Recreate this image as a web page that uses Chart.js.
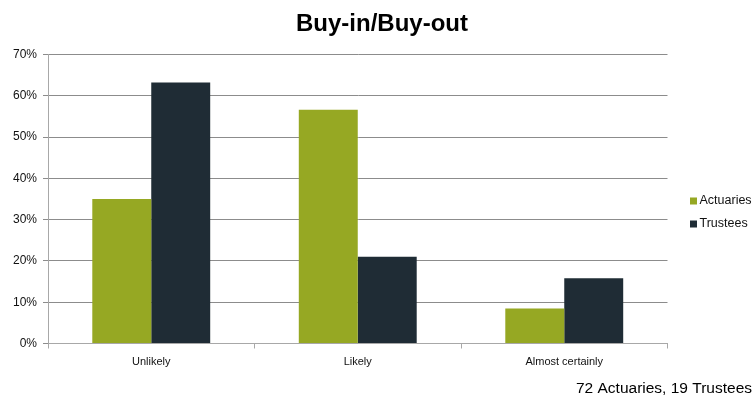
<!DOCTYPE html>
<html>
<head>
<meta charset="utf-8">
<script src="https://cdn.jsdelivr.net/npm/chart.js@4/dist/chart.umd.min.js"></script>
<style>
  html, body { margin: 0; padding: 0; background: #ffffff; }
  #wrap { width: 756px; height: 400px; }
</style>
</head>
<body>
<div id="wrap"><canvas id="c" width="756" height="400"></canvas></div>
<script>
// Survey answers, share of respondents (%)
const categories = ['Unlikely', 'Likely', 'Almost certainly'];
const seriesNames = ['Actuaries', 'Trustees'];
const actuaries = [35.0, 56.6, 8.5];
const trustees = [63.2, 21.0, 15.8];
const yTickValues = [0, 10, 20, 30, 40, 50, 60, 70];
const chartTitle = 'Buy-in/Buy-out';
const footnote = '72 Actuaries, 19 Trustees';

const GREEN = '#96a823';
const DARK = '#1f2c35';
const GRID = '#8c8c8c';
const AXIS = '#a8a8a8';
const FONT = "'Liberation Sans', Arial, sans-serif";

Chart.defaults.font.family = FONT;
Chart.defaults.color = '#111111';

// Legend drawn to the right of the plot, two square swatches stacked
const sideLegend = {
  id: 'sideLegend',
  afterDraw(chart) {
    const { ctx, chartArea } = chart;
    const x = chartArea.right + 22.5;
    const cy = (chartArea.top + chartArea.bottom) / 2 + 2;
    ctx.save();
    ctx.font = '12.5px ' + FONT;
    ctx.textBaseline = 'middle';
    ctx.textAlign = 'left';
    chart.data.datasets.forEach((ds, i) => {
      const y = cy + i * 23;
      ctx.fillStyle = ds.backgroundColor;
      ctx.fillRect(x, y - 3.5, 7, 7);
      ctx.fillStyle = '#111111';
      ctx.fillText(ds.label, x + 9.5, y);
    });
    ctx.restore();
  }
};

new Chart(document.getElementById('c'), {
  type: 'bar',
  data: {
    labels: categories,
    datasets: [
      { label: seriesNames[0], data: actuaries, backgroundColor: GREEN, borderWidth: 0 },
      { label: seriesNames[1], data: trustees, backgroundColor: DARK, borderWidth: 0 }
    ]
  },
  options: {
    responsive: false,
    animation: false,
    devicePixelRatio: 1,
    layout: { padding: { left: 12, right: 4, top: 0, bottom: 0 } },
    datasets: { bar: { categoryPercentage: 0.571, barPercentage: 1.0 } },
    plugins: {
      legend: { display: false },
      tooltip: { enabled: false },
      title: {
        display: true,
        text: chartTitle,
        color: '#000000',
        font: { family: FONT, size: 24, weight: 'bold' },
        padding: { top: 10, bottom: 15.7 }
      },
      subtitle: {
        display: true,
        text: footnote,
        position: 'bottom',
        align: 'end',
        color: '#000000',
        font: { family: FONT, size: 15.5, weight: 'normal' },
        padding: { top: 0, bottom: 2 }
      }
    },
    scales: {
      x: {
        grid: { display: true, drawOnChartArea: false, drawTicks: true, tickLength: 5, color: AXIS, offset: true },
        border: { display: true, color: AXIS, width: 1 },
        ticks: { font: { size: 11 }, padding: 7, color: '#111111', maxRotation: 0 },
        afterFit(scale) { scale.height = 35.9; }
      },
      y: {
        min: 0,
        max: 70,
        grid: { color: GRID, drawTicks: true, tickLength: 5 },
        border: { display: true, color: AXIS, width: 1 },
        ticks: {
          font: { size: 12 },
          padding: 6,
          color: '#111111',
          stepSize: 10,
          callback: (v) => yTickValues.includes(v) ? v + '%' : ''
        },
        afterFit(scale) { scale.width = 36; }
      },
      legendSpace: {
        type: 'linear',
        position: 'right',
        display: true,
        grid: { display: false },
        border: { display: false },
        ticks: { display: false },
        afterFit(scale) { scale.width = 84.5; }
      }
    }
  },
  plugins: [sideLegend]
});
</script>
</body>
</html>
